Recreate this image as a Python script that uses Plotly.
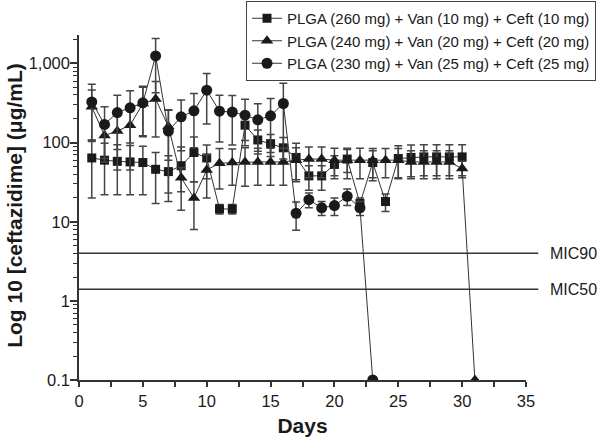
import math
import plotly.graph_objects as go

# ---------------- data ----------------
days_sq = list(range(1, 31))
conc_sq = [64, 60, 58, 57, 56, 46, 43, 51, 75, 64, 14.5, 14.5, 166, 108, 97, 86,
           65, 38, 38, 53, 62, 17, 56, 18, 63, 65, 66, 66, 66, 66]
sd_sq = [44, 38, 36, 35, 34, 29, 25, 37, 43, 29, 2, 2, 60, 36, 30, 30,
         33, 13, 13, 15, 20, 3, 23, 4.5, 28, 28, 28, 28, 28, 28]

days_tri = list(range(1, 32))
conc_tri = [283, 123, 140, 166, 312, 355, 160, 36, 20, 45, 55, 56, 57, 57, 57, 57,
            60, 62, 62, 60, 60, 60, 60, 60, 60, 57, 57, 57, 57, 47, 0.1]
sd_tri = [180, 60, 95, 121, 190, 237, 100, 12, 12, 25, 29, 27, 29, 28, 28, 28,
          26, 26, 26, 25, 25, 25, 24, 24, 24, 22, 22, 22, 22, 11, 0]

days_circ = list(range(1, 24))
conc_circ = [327, 170, 240, 275, 318, 1247, 140, 212, 252, 460, 250, 243, 222, 194,
             218, 312, 12.8, 19, 15, 16, 21, 15, 0.1]
sd_circ = [220, 113, 158, 176, 199, 820, 117, 133, 166, 288, 148, 150, 131, 116,
           143, 250, 5, 4, 3, 4, 5, 3, 0]

series_names = ["PLGA (260 mg) + Van (10 mg) + Ceft (10 mg)",
                "PLGA (240 mg) + Van (20 mg) + Ceft (20 mg)",
                "PLGA (230 mg) + Van (25 mg) + Ceft (25 mg)"]

mic_values = [4, 1.4]
mic_labels = ["MIC90", "MIC50"]

y_tickvals = [0.1, 1, 10, 100, 1000]
y_ticktext = ["0.1", "1", "10", "100", "1,000"]
x_tickvals = [0, 5, 10, 15, 20, 25, 30, 35]

x_title = "Days"
y_title = "Log 10 [ceftazidime] (μg/mL)"

# ---------------- styling ----------------
FONT = "Liberation Sans, Arial, sans-serif"
INK = "#1a1a1a"
AXC = "#333333"
ERR = "#444444"

fig = go.Figure()

series = [
    (days_sq, conc_sq, sd_sq, "square", 9),
    (days_tri, conc_tri, sd_tri, "triangle-up", 11),
    (days_circ, conc_circ, sd_circ, "circle", 11),
]
for (x, y, sd, sym, size), name in zip(series, series_names):
    fig.add_trace(go.Scatter(
        x=x, y=y, name=name, mode="lines+markers",
        line=dict(color="#333333", width=1),
        marker=dict(symbol=sym, size=size, color=INK, line=dict(width=0)),
        error_y=dict(type="data", array=sd, visible=True, color=ERR,
                     thickness=1.5, width=4),
    ))

for val, lab in zip(mic_values, mic_labels):
    fig.add_shape(type="line", xref="x domain", yref="y",
                  x0=0, x1=1.0275, y0=val, y1=val,
                  line=dict(color=AXC, width=1.5))
    fig.add_annotation(xref="x domain", yref="y", x=1.05, y=math.log10(val),
                       xanchor="left", yanchor="middle", showarrow=False,
                       text=lab, font=dict(family=FONT, size=16, color=INK))

# y-axis title as a rotated annotation
fig.add_annotation(xref="x domain", yref="y domain", x=-0.143, y=0.505,
                   xanchor="center", yanchor="middle", showarrow=False,
                   textangle=-90, text=y_title,
                   font=dict(family=FONT, size=21, weight="bold", color=INK))

minor_y = [m * 10 ** e for e in range(-1, 4) for m in range(2, 10)]

fig.update_layout(
    width=606, height=439,
    margin=dict(l=79, r=80, t=35, b=59, autoexpand=False),
    paper_bgcolor="white", plot_bgcolor="white",
    font=dict(family=FONT, color=INK),
    showlegend=True,
    legend=dict(xref="container", yref="container",
                x=246 / 606, y=1 - 1 / 439, xanchor="left", yanchor="top",
                bgcolor="white", bordercolor="#444444", borderwidth=1,
                font=dict(family=FONT, size=15, color=INK)),
    xaxis=dict(range=[0, 35], tickvals=x_tickvals, showline=True,
               linecolor=AXC, linewidth=1.5, ticks="outside",
               ticklen=5, tickwidth=1.5, tickcolor=AXC, automargin=False,
               showgrid=False, zeroline=False,
               tickfont=dict(family=FONT, size=16.5, color=INK),
               minor=dict(dtick=2.5, tick0=0, ticks="outside", ticklen=5,
                          tickwidth=1.5, tickcolor=AXC, showgrid=False),
               title=dict(text=x_title, standoff=10,
                          font=dict(family=FONT, size=21, weight="bold", color=INK))),
    yaxis=dict(type="log", range=[-1, 3.36], tickvals=y_tickvals,
               ticktext=y_ticktext, showline=True, linecolor=AXC,
               linewidth=1.5, ticks="outside", ticklen=7, tickwidth=1.5,
               tickcolor=AXC, showgrid=False, zeroline=False, automargin=False,
               ticklabelstandoff=-3,
               tickfont=dict(family=FONT, size=16.5, color=INK),
               minor=dict(tickvals=minor_y, ticks="outside", ticklen=4,
                          tickwidth=1, tickcolor=AXC, showgrid=False)),
)

fig.write_html("out.html", config={"displayModeBar": False},
               post_script="document.body.style.margin='0';document.body.style.padding='0';")
